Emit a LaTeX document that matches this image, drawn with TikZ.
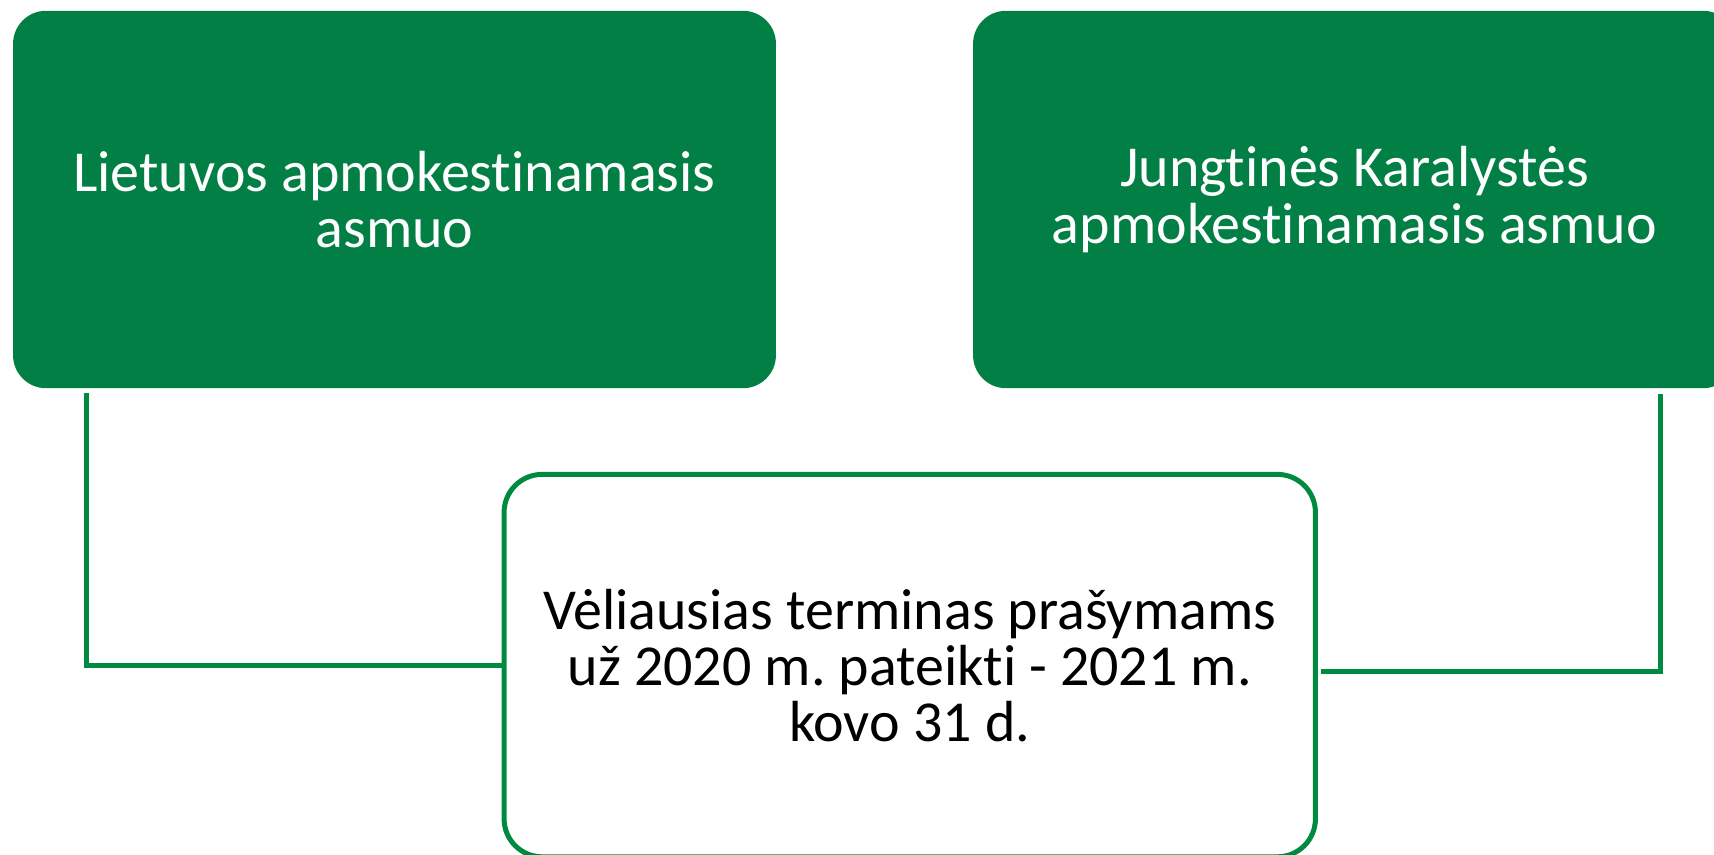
\documentclass[tikz,border=0pt]{standalone}
\usepackage{fontspec}
\setmainfont[Ligatures={NoCommon}]{Carlito}
\frenchspacing
\definecolor{boxgreen}{RGB}{2,127,69}
\definecolor{linegreen}{RGB}{0,138,64}

\begin{document}
\begin{tikzpicture}[x=0.02cm, y=-0.02cm,
  greenbox/.style={rectangle, rounded corners=0.66cm, fill=boxgreen, text=white,
    minimum width=15.26cm, minimum height=7.55cm, align=center,
    font=\fontsize{33}{32}\selectfont},
  whitebox/.style={rectangle, rounded corners=0.76cm, draw=linegreen, line width=0.1cm,
    fill=white, text=black, minimum width=16.23cm, minimum height=7.65cm, align=center,
    font=\fontsize{33}{32}\selectfont},
  link/.style={draw=linegreen, line width=0.09cm}]

\useasboundingbox (0,0) rectangle (1714,855);

% the two parties
\node[greenbox] (lt) at (394.5, 199.5) {Lietuvos apmokestinamasis\\asmuo};
\node[greenbox] (uk) at (1354.5, 199.5) {Jungtinės Karalystės\\apmokestinamasis asmuo};

% deadline
\node[whitebox] (term) at (909.75, 665.6) {Vėliausias terminas prašymams\\už 2020 m. pateikti - 2021 m.\\kovo 31 d.};

\draw[link] ([xshift=1.48cm, yshift=-0.08cm]lt.south west) |- (term.west);
\draw[link] ([xshift=0.06cm, yshift=-0.12cm]term.east) -| ([xshift=-1.52cm, yshift=-0.1cm]uk.south east);

\end{tikzpicture}
\end{document}
